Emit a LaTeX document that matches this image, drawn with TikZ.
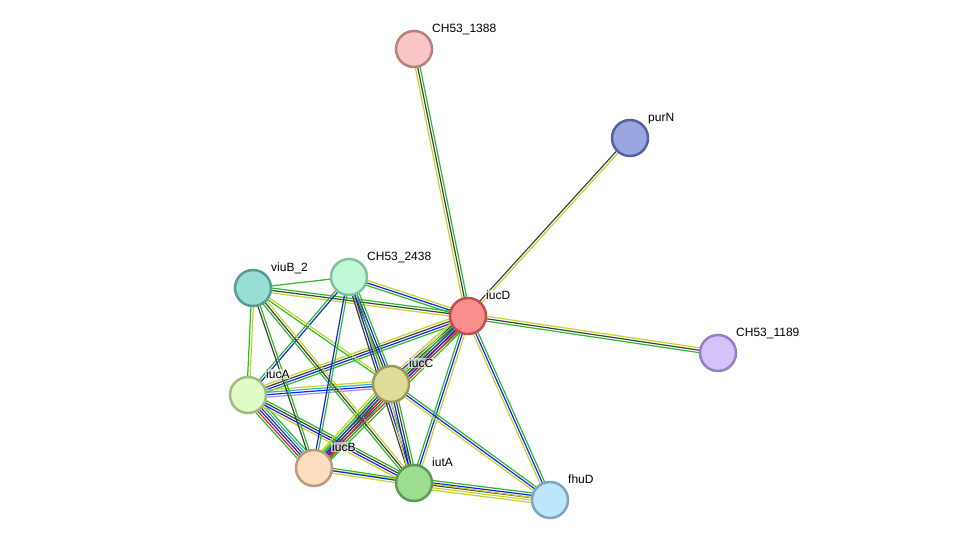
\documentclass[tikz,border=0pt]{standalone}
\usepackage{fontspec}
\setmainfont{Liberation Sans}
\usetikzlibrary{calc,backgrounds}
\definecolor{G}{RGB}{40,190,40}
\definecolor{Y}{RGB}{196,212,40}
\definecolor{K}{RGB}{64,64,64}
\definecolor{B}{RGB}{30,30,240}
\definecolor{R}{RGB}{230,30,30}
\definecolor{C}{RGB}{40,180,210}
\definecolor{L}{RGB}{150,150,245}
\definecolor{f1388}{RGB}{248,198,198}\definecolor{d1388}{RGB}{185,128,128}
\definecolor{fpurN}{RGB}{153,166,223}\definecolor{dpurN}{RGB}{85,97,160}
\definecolor{fiucD}{RGB}{250,142,142}\definecolor{diucD}{RGB}{192,80,80}
\definecolor{f1189}{RGB}{211,195,250}\definecolor{d1189}{RGB}{146,128,192}
\definecolor{fviuB}{RGB}{152,222,213}\definecolor{dviuB}{RGB}{90,155,146}
\definecolor{f2438}{RGB}{192,247,214}\definecolor{d2438}{RGB}{128,194,154}
\definecolor{fiucA}{RGB}{224,251,196}\definecolor{diucA}{RGB}{160,187,132}
\definecolor{fiucC}{RGB}{221,221,153}\definecolor{diucC}{RGB}{154,154,90}
\definecolor{fiucB}{RGB}{253,221,192}\definecolor{diucB}{RGB}{187,155,128}
\definecolor{fiutA}{RGB}{157,221,144}\definecolor{diutA}{RGB}{90,154,85}
\definecolor{ffhuD}{RGB}{190,230,250}\definecolor{dfhuD}{RGB}{126,165,191}
\newcommand\stredge[3]{%
  \foreach \cc [count=\ii] in {#3} {\xdef\ncnt{\ii}}%
  \foreach \cc [count=\ii] in {#3} {%
    \pgfmathsetmacro\off{(\ii-(\ncnt+1)/2)*2.4}%
    \draw[edgeline,\cc] ($(#1)!\off pt!90:(#2)$) -- ($(#2)!\off pt!-90:(#1)$);}}
\newcommand\glabel[3]{%
  \node[lab] (#1) at ($(#2)+(17.2,-16.5)$) {#3};}
\tikzset{
  prot/.style={circle,minimum size=36pt,inner sep=0pt,line width=2.5pt,fill=f#1,draw=d#1},
  lab/.style={anchor=base west,inner sep=0.8pt,font=\fontsize{12}{14}\selectfont,text=black,
    fill=white,fill opacity=0.6,text opacity=1},
  edgeline/.style={line width=1.2pt}
}
\begin{document}
\begin{tikzpicture}[x=1pt,y=-1pt]
\useasboundingbox (0,0) rectangle (975,546);
% nodes
\node[prot=1388] (n1388) at (414,49) {};
\node[prot=purN] (purN) at (630,138) {};
\node[prot=iucD] (iucD) at (468,316) {};
\node[prot=1189] (n1189) at (718,353) {};
\node[prot=viuB] (viuB) at (253,288) {};
\node[prot=2438] (n2438) at (349,277) {};
\node[prot=iucA] (iucA) at (248,395) {};
\node[prot=iucC] (iucC) at (391,384) {};
\node[prot=iucB] (iucB) at (314,468) {};
\node[prot=iutA] (iutA) at (414,483) {};
\node[prot=fhuD] (fhuD) at (550,500) {};
% labels
\glabel{l1388}{n1388}{CH53\_1388}
\glabel{lpurN}{purN}{purN}
\glabel{liucD}{iucD}{iucD}
\glabel{l1189}{n1189}{CH53\_1189}
\glabel{lviuB}{viuB}{viuB\_2}
\glabel{l2438}{n2438}{CH53\_2438}
\glabel{liucA}{iucA}{iucA}
\glabel{liucC}{iucC}{iucC}
\glabel{liucB}{iucB}{iucB}
\glabel{liutA}{iutA}{iutA}
\glabel{lfhuD}{fhuD}{fhuD}
% edges
\begin{scope}[on background layer]
\fill[white] (0,0) rectangle (975,546);
\stredge{iucD}{n1388}{G,K,Y}
\stredge{iucD}{purN}{Y,K}
\stredge{iucD}{n1189}{G,K,Y}
\stredge{viuB}{iucD}{Y,K,G}
\stredge{n2438}{iucD}{G,B,Y}
\stredge{iucA}{iucD}{G,B,K,Y}
\stredge{iucC}{iucD}{G,R,C,K,B,Y}
\stredge{iucB}{iucD}{G,R,B,K,G,Y}
\stredge{iutA}{iucD}{Y,B,G}
\stredge{iucD}{fhuD}{Y,B,G}
\stredge{iucC}{fhuD}{Y,B,G}
\stredge{iutA}{fhuD}{Y,Y,K,B,G}
\stredge{iucB}{fhuD}{Y}
\stredge{iucB}{iutA}{Y,B,G}
\stredge{iucA}{iucB}{G,R,B,K,C,G}
\stredge{iucA}{iutA}{Y,B,K,G}
\stredge{iucA}{iucC}{L,B,C,Y}
\stredge{iucA}{n2438}{B,G}
\stredge{iucA}{viuB}{Y,G}
\stredge{viuB}{n2438}{G}
\stredge{viuB}{iucB}{K,G}
\stredge{viuB}{iutA}{G,K,Y}
\stredge{viuB}{iucC}{G,Y}
\stredge{n2438}{iucB}{B,G}
\stredge{n2438}{iucC}{Y,K,B,G}
\stredge{n2438}{iutA}{K,B,G}
\stredge{iucC}{iutA}{Y,B,K,G}
\stredge{iucC}{iucB}{Y,G,B,K,R,G}
\end{scope}
\end{tikzpicture}
\end{document}
